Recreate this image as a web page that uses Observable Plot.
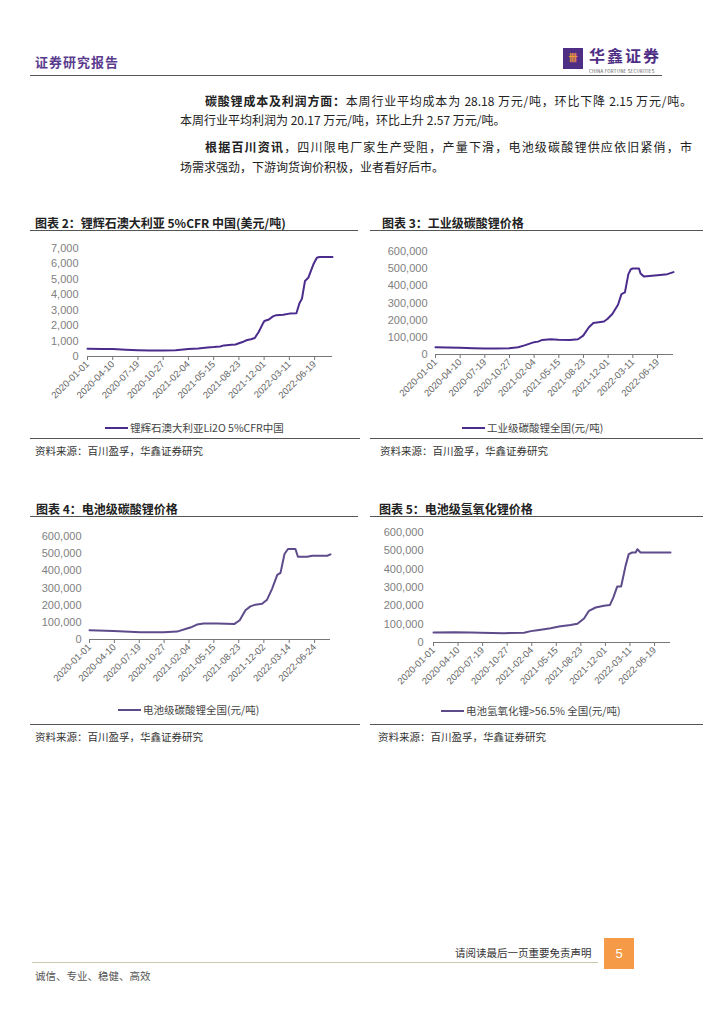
<!DOCTYPE html>
<html>
<head>
<meta charset="utf-8">
<script src="https://cdn.jsdelivr.net/npm/d3@7"></script>
<script src="https://cdn.jsdelivr.net/npm/@observablehq/plot@0.6"></script>
<style>
  html, body { margin: 0; padding: 0; background: #fff; }
  body { width: 724px; height: 1024px; position: relative; overflow: hidden;
         font-family: "Noto Sans CJK SC", "Liberation Sans", sans-serif; color: #222; }
  .abs { position: absolute; }
  .hdr { left: 35px; top: 52px; font-size: 13px; font-weight: bold; color: #5a3c8e; letter-spacing: 1px; }
  .rule { position: absolute; height: 0; border-top: 1px solid #555; }
  .para { position: absolute; font-size: 12px; line-height: 16px; white-space: nowrap; }
  .just { text-align: justify; text-align-last: justify; }
  .ctitle { position: absolute; font-size: 12px; font-weight: bold; color: #222; white-space: nowrap; }
  .src { position: absolute; font-size: 10.5px; color: #333; white-space: nowrap; }
  .legend { position: absolute; font-size: 10.5px; color: #444; white-space: nowrap; display: flex; align-items: center; }
  .legend span.sw { display: inline-block; width: 23px; height: 2px; margin-right: 2px; }
  .plot { position: absolute; }
</style>
</head>
<body>
<div class="abs hdr">证券研究报告</div>
<div class="abs" style="left:563px;top:48px;width:20px;height:21px;background:#4f2f86;"></div>
<div class="abs" style="left:565px;top:51px;width:16px;font-size:9px;line-height:14px;color:#f29a3a;font-weight:bold;text-align:center;">卌</div>
<div class="abs" style="left:589px;top:47px;font-size:16px;line-height:16px;color:#4f2f86;font-weight:bold;letter-spacing:2px;">华鑫证券</div>
<div class="abs" style="left:589px;top:69px;font-size:4.5px;line-height:4px;color:#555;letter-spacing:0.2px;white-space:nowrap;">CHINA FORTUNE SECURITIES</div>
<div class="rule" style="left:30px;top:75px;width:632px;border-top:1.5px solid #555;"></div>

<div class="para just" style="left:205px;top:93px;width:487px;"><b>碳酸锂成本及利润方面：</b>本周行业平均成本为 28.18 万元/吨，环比下降 2.15 万元/吨。</div>
<div class="para" style="left:180px;top:112px;">本周行业平均利润为 20.17 万元/吨，环比上升 2.57 万元/吨。</div>
<div class="para just" style="left:205px;top:139px;width:487px;"><b>根据百川资讯</b>，四川限电厂家生产受阻，产量下滑，电池级碳酸锂供应依旧紧俏，市</div>
<div class="para" style="left:180px;top:159px;">场需求强劲，下游询货询价积极，业者看好后市。</div>

<div class="ctitle" style="left:35px;top:214px;">图表 2：锂辉石澳大利亚 5%CFR 中国(美元/吨)</div>
<div class="rule" style="left:30px;top:230px;width:328px;"></div>
<div class="ctitle" style="left:382px;top:214px;">图表 3：工业级碳酸锂价格</div>
<div class="rule" style="left:370px;top:230px;width:333px;"></div>

<div class="plot" id="c2" style="left:30px;top:235px;"></div>
<div class="plot" id="c3" style="left:370px;top:235px;"></div>

<div class="legend" style="left:105px;top:420px;"><span class="sw" style="background:#4b2c8c"></span>锂辉石澳大利亚Li2O 5%CFR中国</div>
<div class="legend" style="left:462px;top:420px;"><span class="sw" style="background:#4b2c8c"></span>工业级碳酸锂全国(元/吨)</div>

<div class="rule" style="left:30px;top:438px;width:330px;"></div>
<div class="rule" style="left:370px;top:438px;width:333px;"></div>
<div class="src" style="left:35px;top:443px;">资料来源：百川盈孚，华鑫证券研究</div>
<div class="src" style="left:380px;top:443px;">资料来源：百川盈孚，华鑫证券研究</div>

<div class="ctitle" style="left:36px;top:500px;">图表 4：电池级碳酸锂价格</div>
<div class="rule" style="left:30px;top:516px;width:328px;"></div>
<div class="ctitle" style="left:379px;top:500px;">图表 5：电池级氢氧化锂价格</div>
<div class="rule" style="left:370px;top:516px;width:333px;"></div>

<div class="plot" id="c4" style="left:30px;top:520px;"></div>
<div class="plot" id="c5" style="left:370px;top:520px;"></div>

<div class="legend" style="left:118px;top:702px;"><span class="sw" style="background:#5e4b8b"></span>电池级碳酸锂全国(元/吨)</div>
<div class="legend" style="left:441px;top:703px;"><span class="sw" style="background:#5e4b8b"></span>电池氢氧化锂&gt;56.5% 全国(元/吨)</div>

<div class="rule" style="left:30px;top:724px;width:330px;"></div>
<div class="rule" style="left:370px;top:724px;width:333px;"></div>
<div class="src" style="left:35px;top:729px;">资料来源：百川盈孚，华鑫证券研究</div>
<div class="src" style="left:378px;top:729px;">资料来源：百川盈孚，华鑫证券研究</div>

<div class="abs" style="left:455px;top:945px;font-size:10.5px;color:#333;white-space:nowrap;">请阅读最后一页重要免责声明</div>
<div class="abs" style="left:604px;top:938px;width:30px;height:31px;background:#f59a46;color:#fff;font-size:13px;line-height:31px;text-align:center;font-family:'Liberation Sans',sans-serif;">5</div>
<div class="rule" style="left:32px;top:962px;width:566px;border-top:1px solid #cdc9ad;"></div>
<div class="abs" style="left:35px;top:968px;font-size:10.5px;color:#555;white-space:nowrap;">诚信、专业、稳健、高效</div>

<script>
// ---- data ----
const ticksA = ["2020-01-01","2020-04-10","2020-07-19","2020-10-27","2021-02-04","2021-05-15","2021-08-23","2021-12-01","2022-03-11","2022-06-19"];
const ticksB = ["2020-01-01","2020-04-10","2020-07-19","2020-10-27","2021-02-04","2021-05-15","2021-08-23","2021-12-02","2022-03-14","2022-06-24"];

const spodDates = ["2020-01-01","2020-03-01","2020-04-10","2020-06-01","2020-07-19","2020-09-01","2020-10-27","2020-12-15","2021-01-15","2021-02-04","2021-03-15","2021-04-20","2021-05-15","2021-06-10","2021-06-25","2021-07-25","2021-08-10","2021-08-23","2021-09-10","2021-09-25","2021-10-10","2021-10-25","2021-11-10","2021-11-25","2021-12-02","2021-12-20","2022-01-05","2022-01-18","2022-02-15","2022-03-11","2022-04-08","2022-04-20","2022-04-30","2022-05-12","2022-05-25","2022-06-15","2022-06-28","2022-07-08","2022-08-29"];
const spodValues = [500,490,480,440,410,395,390,410,450,480,520,590,610,650,720,760,780,860,960,1070,1120,1200,1600,2100,2300,2400,2600,2680,2700,2780,2800,3450,3750,4900,5100,6000,6400,6450,6450];

const indDates = ["2020-01-01","2020-02-15","2020-04-10","2020-06-01","2020-07-19","2020-09-01","2020-10-27","2020-12-01","2020-12-27","2021-01-20","2021-02-04","2021-02-20","2021-03-09","2021-04-12","2021-05-13","2021-06-29","2021-08-01","2021-08-22","2021-09-14","2021-10-02","2021-11-14","2021-11-28","2021-12-18","2022-01-10","2022-01-24","2022-02-07","2022-02-21","2022-03-03","2022-03-11","2022-04-05","2022-04-12","2022-04-25","2022-06-19","2022-07-29","2022-08-23"];
const indValues = [42000,41000,40000,37000,35000,35000,37000,42000,53000,65000,72000,75000,85000,89000,86000,85000,89000,110000,159000,184000,192000,207000,236000,290000,352000,362000,468000,497000,501000,501000,470000,455000,462000,468000,480000];

const batDates = ["2020-01-01","2020-04-07","2020-07-23","2020-10-25","2020-12-18","2021-01-27","2021-02-16","2021-03-08","2021-04-04","2021-05-28","2021-08-06","2021-08-27","2021-09-19","2021-10-09","2021-10-29","2021-11-25","2021-12-15","2022-01-04","2022-01-25","2022-02-07","2022-02-23","2022-03-09","2022-04-08","2022-04-18","2022-05-25","2022-06-15","2022-08-14","2022-08-27"];
const batValues = [54000,50000,42000,42000,46000,64000,73000,87000,93000,93000,91000,112000,170000,193000,203000,208000,232000,295000,376000,388000,498000,527000,527000,482000,482000,488000,488000,496000];

const hydDates = ["2020-01-01","2020-03-25","2020-06-01","2020-07-11","2020-10-14","2021-01-04","2021-01-31","2021-02-27","2021-04-22","2021-05-26","2021-07-12","2021-08-09","2021-09-05","2021-09-25","2021-10-22","2021-11-25","2021-12-19","2022-01-02","2022-01-18","2022-02-03","2022-02-21","2022-03-06","2022-03-20","2022-04-03","2022-04-10","2022-04-23","2022-08-23"];
const hydValues = [54500,56000,54000,52700,51000,52700,62000,67000,78000,87000,95000,102000,131000,173000,191000,200000,204000,245000,305000,305000,418000,482000,491000,491000,509000,491000,491000];

// ---- drawing ----
const parse = d3.utcParse("%Y-%m-%d");
function chart(id, o) {
  const data = o.dates.map((d, i) => ({date: parse(d), value: o.values[i]}));
  const svg = Plot.plot({
    width: o.width, height: 170,
    marginLeft: o.ml, marginRight: o.mr, marginTop: o.mt, marginBottom: o.mb,
    style: {fontFamily: "'Liberation Sans', Arial, sans-serif", background: "transparent", color: "#7f7f7f", overflow: "visible"},
    x: {type: "utc", domain: [parse(o.dates[0]), parse(o.dates[o.dates.length - 1])]},
    y: {domain: [0, o.yMax]},
    marks: [
      Plot.axisY({ticks: d3.range(0, o.yMax + 1, o.yStep), tickSize: 0, tickPadding: o.tp, tickFormat: d3.format(","), fontSize: 11, fill: "#808080", label: null}),
      Plot.axisX({ticks: o.xTicks.map(parse), tickFormat: d3.utcFormat("%Y-%m-%d"), tickRotate: -45, tickSize: 4, tickPadding: 2, fontSize: 9.5, fill: "#666", stroke: "#777", label: null}),
      Plot.ruleY([0], {stroke: "#777", strokeWidth: 1}),
      Plot.line(data, {x: "date", y: "value", stroke: o.color, strokeWidth: 2})
    ]
  });
  document.getElementById(id).appendChild(svg);
}

chart("c2", {dates: spodDates, values: spodValues, color: "#4b2c8c", yMax: 7000, yStep: 1000, xTicks: ticksA, width: 330, ml: 57, mr: 28, mt: 13, mb: 49, tp: 9});
chart("c3", {dates: indDates, values: indValues, color: "#4b2c8c", yMax: 600000, yStep: 100000, xTicks: ticksA, width: 333, ml: 65, mr: 30, mt: 16, mb: 51, tp: 8});
chart("c4", {dates: batDates, values: batValues, color: "#5e4b8b", yMax: 600000, yStep: 100000, xTicks: ticksB, width: 330, ml: 59, mr: 30, mt: 16, mb: 51, tp: 8});
chart("c5", {dates: hydDates, values: hydValues, color: "#5e4b8b", yMax: 600000, yStep: 100000, xTicks: ticksA, width: 333, ml: 63, mr: 33, mt: 12, mb: 48, tp: 10});
</script>
</body>
</html>
